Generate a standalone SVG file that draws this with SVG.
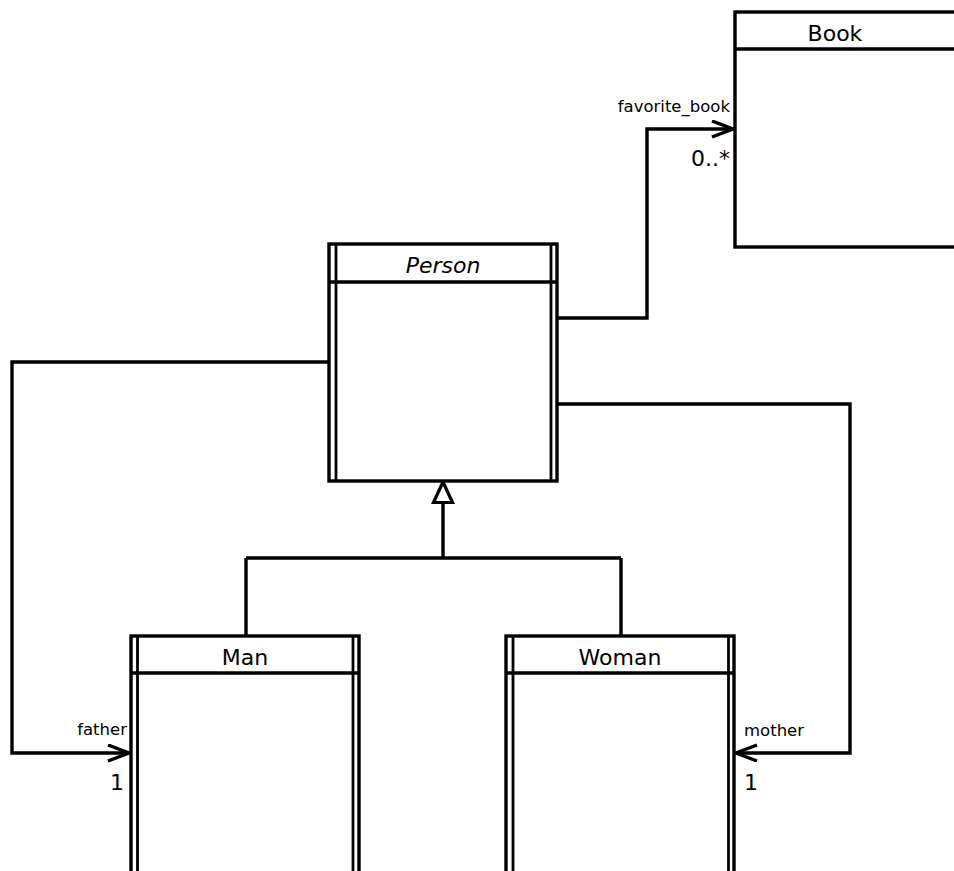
<svg xmlns="http://www.w3.org/2000/svg" width="954" height="871" viewBox="0 0 954 871">
<style>
.box{fill:#fff;stroke:#000;stroke-width:3.4}
.in{stroke:#000;stroke-width:2.8;fill:none}
.conn{fill:none;stroke:#000;stroke-width:3.4}
.name{font-family:"DejaVu Sans",sans-serif;font-size:22px;text-anchor:middle;fill:#000}
.role{font-family:"DejaVu Sans",sans-serif;font-size:16.5px;fill:#000}
.mult{font-family:"DejaVu Sans",sans-serif;font-size:22px;fill:#000}
</style>
<defs>
<marker id="open" markerUnits="userSpaceOnUse" markerWidth="30" markerHeight="24" refX="22" refY="9" orient="auto">
<path d="M1,1 L22,9 L1,17" fill="none" stroke="#000" stroke-width="3.4"/>
</marker>
</defs>
<rect width="954" height="871" fill="#fff"/>
<g id="connectors">
<path class="conn" d="M558,318 H647 V129 H733" marker-end="url(#open)"/>
<path class="conn" d="M329,362 H12 V753 H129" marker-end="url(#open)"/>
<path class="conn" d="M558,404 H850 V753 H736" marker-end="url(#open)"/>
<path class="conn" d="M443,503 V558 M246,558 H621 M246,558 V636 M621,558 V636"/>
<path d="M443,482 L433.5,502.5 L452.5,502.5 Z" fill="#fff" stroke="#000" stroke-width="3.2" stroke-linejoin="miter"/>
<text class="role" x="730" y="112" text-anchor="end">favorite_book</text>
<text class="mult" x="730" y="166" text-anchor="end">0..*</text>
<text class="role" x="127" y="735" text-anchor="end">father</text>
<text class="mult" x="124" y="790" text-anchor="end">1</text>
<text class="role" x="744" y="736">mother</text>
<text class="mult" x="744" y="790">1</text>
</g>
<g id="book">
<rect class="box" x="735" y="12" width="240" height="235"/>
<line class="box" x1="735" y1="49" x2="975" y2="49"/>
<text class="name" x="835" y="41">Book</text>
</g>
<g id="person">
<rect class="box" x="329" y="244" width="228" height="237"/>
<line class="box" x1="329" y1="282" x2="557" y2="282"/>
<line class="in" x1="336" y1="244" x2="336" y2="481"/>
<line class="in" x1="551" y1="244" x2="551" y2="481"/>
<text class="name" x="443" y="273" font-style="italic">Person</text>
</g>
<g id="man">
<rect class="box" x="131" y="636" width="228" height="260"/>
<line class="box" x1="131" y1="673" x2="359" y2="673"/>
<line class="in" x1="137.5" y1="636" x2="137.5" y2="871"/>
<line class="in" x1="353" y1="636" x2="353" y2="871"/>
<text class="name" x="245" y="665">Man</text>
</g>
<g id="woman">
<rect class="box" x="506" y="636" width="228" height="260"/>
<line class="box" x1="506" y1="673" x2="734" y2="673"/>
<line class="in" x1="513" y1="636" x2="513" y2="871"/>
<line class="in" x1="728.5" y1="636" x2="728.5" y2="871"/>
<text class="name" x="620" y="665">Woman</text>
</g>
</svg>
